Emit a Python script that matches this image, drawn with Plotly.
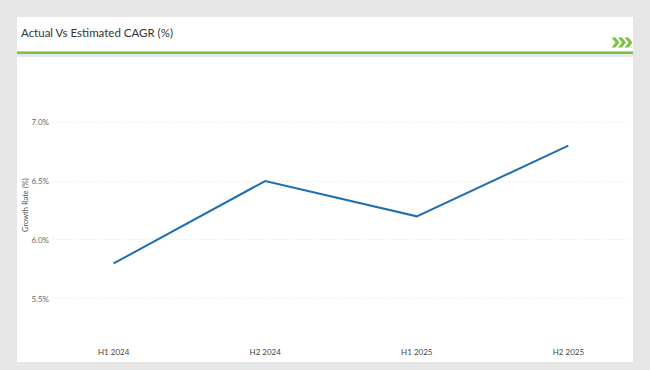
import plotly.graph_objects as go

categories = ["H1 2024", "H2 2024", "H1 2025", "H2 2025"]
growth_rate = [5.8, 6.5, 6.2, 6.8]
y_ticks = [5.5, 6.0, 6.5, 7.0]
y_tick_labels = ["5.5%", "6.0%", "6.5%", "7.0%"]
title_text = "Actual Vs Estimated CAGR (%)"
y_title = "Growth Rate (%)"

W, H = 650, 370
L, R, T, B = 53, 629, 75, 340


def px(x):
    return (x - L) / (R - L)


def py(y):
    return (B - y) / (B - T)


fig = go.Figure()
fig.add_trace(go.Scatter(
    x=categories, y=growth_rate, mode="lines",
    line=dict(color="#1f6fb0", width=2),
    hoverinfo="x+y",
))

shapes = [
    dict(type="rect", xref="paper", yref="paper", x0=px(17), x1=px(633), y0=py(17), y1=py(51),
         fillcolor="white", line=dict(width=0), layer="below"),
    dict(type="rect", xref="paper", yref="paper", x0=px(17), x1=px(633), y0=py(51.5), y1=py(54),
         fillcolor="#7dc242", line=dict(width=0), layer="below"),
    dict(type="rect", xref="paper", yref="paper", x0=px(17), x1=px(633), y0=py(57), y1=py(362),
         fillcolor="white", line=dict(width=0), layer="below"),
]
# chevrons
for i in range(3):
    x0 = 611.5 + i * 6.5
    pts = [(x0, 37.5), (x0 + 4, 37.5), (x0 + 8, 42.5), (x0 + 4, 47.5), (x0, 47.5), (x0 + 4, 42.5)]
    path = "M " + " L ".join(f"{px(a):.5f},{py(b):.5f}" for a, b in pts) + " Z"
    shapes.append(dict(type="path", xref="paper", yref="paper", path=path,
                       fillcolor="#7dc242", line=dict(width=0)))

fig.update_layout(
    width=W, height=H,
    margin=dict(l=L, r=W - R, t=T, b=H - B, pad=0),
    paper_bgcolor="#e6e6e6",
    plot_bgcolor="white",
    showlegend=False,
    shapes=shapes,
    font=dict(family="Lato, Open Sans, sans-serif", color="#444"),
    annotations=[
        dict(text=title_text, xref="paper", yref="paper", x=px(19), y=py(32),
             xanchor="left", yanchor="middle", showarrow=False,
             font=dict(size=11.5, color="#333", family="Lato, sans-serif")),
        dict(text=y_title, xref="paper", yref="paper", x=px(25), y=py(205),
             xanchor="center", yanchor="middle", showarrow=False, textangle=-90,
             font=dict(size=7.5, color="#555", family="Lato, sans-serif")),
    ],
    xaxis=dict(
        type="category", range=[-0.4, 3.4], showgrid=False, zeroline=False,
        showline=False, ticks="", tickfont=dict(size=8, color="#444"),
        ticklabelstandoff=6,
    ),
    yaxis=dict(
        range=[5.15, 7.4], tickvals=y_ticks, ticktext=y_tick_labels,
        showgrid=True, gridcolor="#e2e2e2", griddash="1px,2px", gridwidth=1,
        zeroline=False, showline=False, ticks="",
        tickfont=dict(size=8, color="#666"), ticklabelstandoff=3,
    ),
)

fig.write_html(
    "out.html",
    config={"displayModeBar": False},
    post_script="document.body.style.margin='0';document.body.style.background='#e6e6e6';",
)
